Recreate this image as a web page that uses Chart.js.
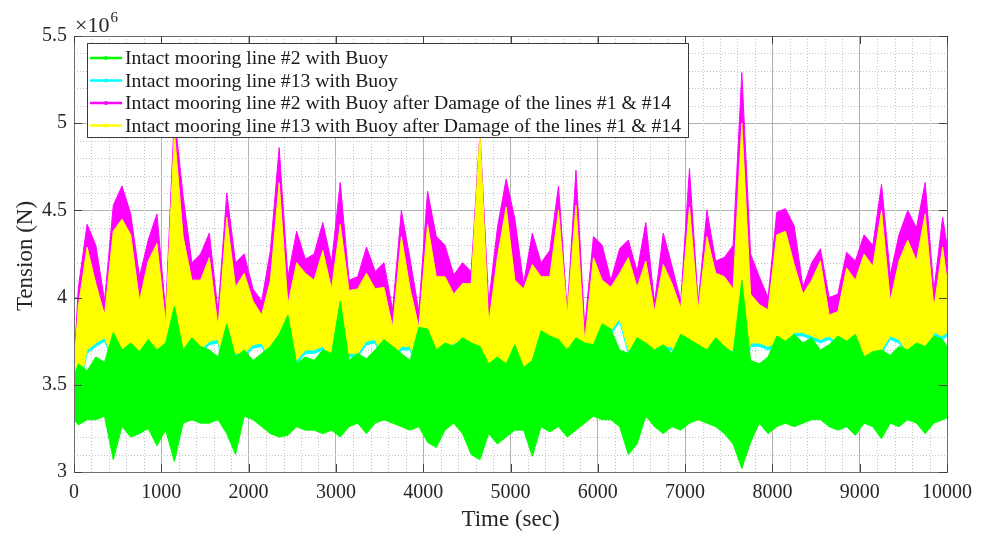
<!DOCTYPE html>
<html>
<head>
<meta charset="utf-8">
<title>Mooring line tension</title>
<script src="https://cdn.jsdelivr.net/npm/chart.js@4.4.1/dist/chart.umd.min.js"></script>
<style>
  html, body { margin: 0; padding: 0; background: #fff; }
  #wrap { width: 990px; height: 536px; }
</style>
</head>
<body>
<div id="wrap"><canvas id="tension" width="990" height="536"></canvas></div>
<script>
// tension in units of 1e6 N; first/last entries sit at t = 0 and t = 10000,
// the rest are the peak / trough of each 100 s window (window centre)
const legendLabels = [
    'Intact mooring line #2 with Buoy',
    'Intact mooring line #13 with Buoy',
    'Intact mooring line #2 with Buoy after Damage of the lines #1 & #14',
    'Intact mooring line #13 with Buoy after Damage of the lines #1 & #14'
];
const xTicks = [0, 1000, 2000, 3000, 4000, 5000, 6000, 7000, 8000, 9000, 10000];
const yTicks = [3, 3.5, 4, 4.5, 5, 5.5];

const line2Top = [3.55,
    3.62, 3.58, 3.66, 3.63, 3.8, 3.7, 3.74, 3.69, 3.76, 3.7,
    3.74, 3.95, 3.7, 3.77, 3.72, 3.7, 3.66, 3.85, 3.66, 3.7,
    3.64, 3.68, 3.72, 3.79, 3.9, 3.62, 3.66, 3.64, 3.7, 3.68,
    3.98, 3.64, 3.68, 3.65, 3.7, 3.76, 3.72, 3.68, 3.64, 3.83,
    3.82, 3.7, 3.74, 3.72, 3.77, 3.74, 3.72, 3.62, 3.66, 3.62,
    3.73, 3.6, 3.64, 3.81, 3.78, 3.76, 3.7, 3.77, 3.74, 3.73,
    3.85, 3.82, 3.7, 3.68, 3.77, 3.74, 3.7, 3.73, 3.68, 3.79,
    3.76, 3.73, 3.7, 3.77, 3.72, 3.68, 4.1, 3.64, 3.62, 3.66,
    3.78, 3.75, 3.79, 3.74, 3.77, 3.7, 3.73, 3.78, 3.75, 3.79,
    3.66, 3.69, 3.7, 3.67, 3.72, 3.7, 3.74, 3.72, 3.78, 3.76,
    3.72];
const line2Bottom = [3.3,
    3.27, 3.3, 3.3, 3.32, 3.07, 3.26, 3.2, 3.22, 3.25, 3.15,
    3.24, 3.06, 3.28, 3.3, 3.28, 3.28, 3.3, 3.22, 3.1, 3.32,
    3.3, 3.26, 3.22, 3.2, 3.21, 3.26, 3.24, 3.24, 3.22, 3.24,
    3.2, 3.26, 3.28, 3.22, 3.28, 3.3, 3.28, 3.26, 3.24, 3.26,
    3.17, 3.14, 3.24, 3.28, 3.22, 3.1, 3.07, 3.22, 3.16, 3.2,
    3.24, 3.24, 3.09, 3.26, 3.23, 3.26, 3.2, 3.24, 3.28, 3.32,
    3.3, 3.3, 3.26, 3.1, 3.16, 3.32, 3.26, 3.22, 3.26, 3.24,
    3.28, 3.3, 3.28, 3.26, 3.22, 3.16, 3.02, 3.17, 3.28, 3.22,
    3.26, 3.28, 3.26, 3.28, 3.3, 3.3, 3.26, 3.24, 3.26, 3.21,
    3.28, 3.26, 3.19, 3.28, 3.26, 3.3, 3.28, 3.22, 3.28, 3.3,
    3.31];

const line13Top = [3.56,
    3.9, 4.22, 4.02, 3.85, 4.3, 4.38, 4.28, 3.92, 4.14, 4.25,
    3.8, 4.88, 4.28, 4.04, 4.05, 4.16, 3.78, 4.38, 4.0, 4.08,
    3.92, 3.85, 4.04, 4.58, 3.9, 4.14, 4.08, 4.04, 4.2, 3.99,
    4.35, 3.98, 3.99, 4.08, 3.99, 4.0, 3.78, 4.28, 3.99, 3.78,
    4.35, 4.06, 4.06, 3.96, 4.02, 4.02, 4.86, 3.8, 4.16, 4.45,
    4.04, 3.99, 4.12, 4.06, 4.06, 4.43, 3.84, 4.46, 3.7, 4.16,
    4.04, 4.0, 4.08, 4.16, 4.0, 4.14, 3.86, 4.12, 4.02, 3.88,
    4.45, 3.88, 4.28, 4.08, 4.06, 3.99, 4.92, 3.96, 3.9, 3.88,
    4.3, 4.3, 4.12, 3.96, 4.04, 4.14, 3.85, 3.86, 4.1, 4.04,
    4.18, 4.12, 4.43, 3.92, 4.14, 4.26, 4.14, 4.4, 3.88, 4.22,
    4.04];
const line13Bottom = [3.4,
    3.43, 3.68, 3.72, 3.75, 3.63, 3.66, 3.68, 3.58, 3.6, 3.64,
    3.66, 3.45, 3.6, 3.66, 3.68, 3.73, 3.74, 3.48, 3.66, 3.66,
    3.71, 3.72, 3.62, 3.46, 3.64, 3.62, 3.68, 3.68, 3.7, 3.64,
    3.43, 3.66, 3.66, 3.73, 3.74, 3.62, 3.64, 3.7, 3.7, 3.55,
    3.58, 3.68, 3.66, 3.72, 3.72, 3.48, 3.46, 3.58, 3.56, 3.6,
    3.58, 3.48, 3.62, 3.64, 3.7, 3.48, 3.71, 3.58, 3.6, 3.68,
    3.68, 3.79, 3.86, 3.68, 3.68, 3.6, 3.58, 3.7, 3.7, 3.56,
    3.58, 3.6, 3.66, 3.7, 3.68, 3.68, 3.44, 3.72, 3.72, 3.7,
    3.72, 3.72, 3.78, 3.78, 3.76, 3.74, 3.76, 3.72, 3.72, 3.7,
    3.58, 3.51, 3.68, 3.76, 3.74, 3.66, 3.64, 3.56, 3.78, 3.76,
    3.78];

const damaged2Top = [3.62,
    4.06, 4.42, 4.3, 3.98, 4.53, 4.64, 4.48, 4.12, 4.33, 4.48,
    3.92, 5.05, 4.58, 4.2, 4.25, 4.37, 3.92, 4.6, 4.2, 4.25,
    4.05, 3.98, 4.27, 4.86, 4.12, 4.38, 4.22, 4.25, 4.43, 4.2,
    4.66, 4.1, 4.12, 4.29, 4.15, 4.2, 3.93, 4.5, 4.22, 3.92,
    4.61, 4.35, 4.3, 4.13, 4.2, 4.15, 4.95, 3.97, 4.4, 4.68,
    4.45, 4.08, 4.37, 4.2, 4.27, 4.64, 3.92, 4.73, 3.83, 4.35,
    4.3, 4.1, 4.28, 4.33, 4.15, 4.43, 3.97, 4.37, 4.18, 3.98,
    4.74, 3.97, 4.5, 4.21, 4.23, 4.3, 5.29, 4.25, 4.12, 4.0,
    4.49, 4.51, 4.41, 4.06, 4.2, 4.28, 4.0, 4.02, 4.26, 4.21,
    4.36, 4.3, 4.65, 4.13, 4.36, 4.5, 4.4, 4.66, 4.04, 4.46,
    4.3];
const damaged2Bottom = [3.55,
    3.6, 3.8, 3.82, 3.85, 3.75, 3.78, 3.8, 3.72, 3.74, 3.78,
    3.78, 3.52, 3.74, 3.78, 3.8, 3.84, 3.86, 3.58, 3.78, 3.78,
    3.82, 3.84, 3.74, 3.55, 3.76, 3.74, 3.8, 3.8, 3.82, 3.76,
    3.52, 3.78, 3.78, 3.84, 3.85, 3.74, 3.76, 3.8, 3.8, 3.66,
    3.7, 3.8, 3.78, 3.84, 3.84, 3.58, 3.55, 3.7, 3.68, 3.72,
    3.7, 3.6, 3.74, 3.76, 3.82, 3.58, 3.82, 3.7, 3.7, 3.8,
    3.8, 3.88, 3.94, 3.8, 3.8, 3.72, 3.7, 3.82, 3.82, 3.68,
    3.7, 3.72, 3.78, 3.82, 3.8, 3.8, 3.52, 3.84, 3.84, 3.82,
    3.84, 3.84, 3.9, 3.9, 3.88, 3.86, 3.86, 3.84, 3.84, 3.82,
    3.7, 3.62, 3.8, 3.88, 3.86, 3.78, 3.76, 3.68, 3.9, 3.88,
    3.88];

const damaged13Top = [3.6,
    3.95, 4.29, 4.08, 3.9, 4.38, 4.45, 4.36, 3.98, 4.21, 4.31,
    3.85, 4.95, 4.35, 4.1, 4.1, 4.23, 3.83, 4.46, 4.06, 4.14,
    3.98, 3.9, 4.1, 4.66, 3.96, 4.2, 4.14, 4.1, 4.27, 4.05,
    4.42, 4.04, 4.05, 4.14, 4.05, 4.06, 3.83, 4.35, 4.05, 3.83,
    4.42, 4.12, 4.12, 4.02, 4.08, 4.08, 4.94, 3.85, 4.23, 4.52,
    4.1, 4.05, 4.19, 4.12, 4.12, 4.5, 3.9, 4.53, 3.74, 4.23,
    4.1, 4.06, 4.14, 4.23, 4.06, 4.21, 3.92, 4.19, 4.08, 3.94,
    4.52, 3.93, 4.35, 4.14, 4.12, 4.05, 5.0, 4.02, 3.96, 3.93,
    4.36, 4.38, 4.19, 4.02, 4.1, 4.21, 3.9, 3.92, 4.17, 4.1,
    4.25, 4.18, 4.5, 3.98, 4.21, 4.33, 4.21, 4.48, 3.94, 4.29,
    4.1];
const damaged13Bottom = [3.42,
    3.45, 3.7, 3.74, 3.77, 3.65, 3.68, 3.7, 3.6, 3.62, 3.66,
    3.68, 3.47, 3.62, 3.68, 3.7, 3.75, 3.76, 3.5, 3.68, 3.68,
    3.73, 3.74, 3.64, 3.48, 3.66, 3.64, 3.7, 3.7, 3.72, 3.66,
    3.45, 3.68, 3.68, 3.75, 3.76, 3.64, 3.66, 3.72, 3.72, 3.57,
    3.6, 3.7, 3.68, 3.74, 3.74, 3.5, 3.48, 3.6, 3.58, 3.62,
    3.6, 3.5, 3.64, 3.66, 3.72, 3.5, 3.73, 3.6, 3.62, 3.7,
    3.7, 3.81, 3.88, 3.7, 3.7, 3.62, 3.6, 3.72, 3.72, 3.58,
    3.6, 3.62, 3.68, 3.72, 3.7, 3.7, 3.46, 3.74, 3.74, 3.72,
    3.74, 3.74, 3.8, 3.8, 3.78, 3.76, 3.78, 3.74, 3.74, 3.72,
    3.6, 3.53, 3.7, 3.78, 3.76, 3.68, 3.66, 3.58, 3.8, 3.78,
    3.8];

const colors = ['#00ff00', '#00ffff', '#ff00ff', '#ffff00'];
const serif = '"Liberation Serif", "Times New Roman", serif';

// sample times: record ends plus the centre of every 100 s window
const seconds = [0];
for (let i = 0; i < 100; i++) seconds.push(i * 100 + 50);
seconds.push(10000);

function toPoints(values) {
    return values.map((v, i) => ({ x: seconds[i], y: v }));
}

// each record is drawn as a filled band: lower envelope + upper envelope filled to it
function band(label, lower, upper, color) {
    let common = { borderColor: color, borderWidth: 1, pointRadius: 0, tension: 0 };
    return [
        Object.assign({ label: label + ' (min)', data: toPoints(lower), fill: false }, common),
        Object.assign({ label: label, data: toPoints(upper), fill: '-1', backgroundColor: color }, common)
    ];
}

// first dataset ends up on top: green, then yellow, cyan, magenta underneath
const datasets = [].concat(
    band(legendLabels[0], line2Bottom, line2Top, colors[0]),
    band(legendLabels[3], damaged13Bottom, damaged13Top, colors[3]),
    band(legendLabels[1], line13Bottom, line13Top, colors[1]),
    band(legendLabels[2], damaged2Bottom, damaged2Top, colors[2])
);

// dotted minor grid under the data
const minorGrid = {
    id: 'minorGrid',
    beforeDatasetsDraw(chart) {
        const { ctx, chartArea: a, scales: { x, y } } = chart;
        ctx.save();
        ctx.strokeStyle = '#c4c4c4';
        ctx.lineWidth = 1;
        ctx.setLineDash([1, 2]);
        for (let t = 200; t < 10000; t += 200) {
            if (t % 1000 === 0) continue;
            let px = Math.round(x.getPixelForValue(t)) + 0.5;
            ctx.beginPath(); ctx.moveTo(px, a.top); ctx.lineTo(px, a.bottom); ctx.stroke();
        }
        for (let k = 31; k < 55; k++) {
            if (k % 5 === 0) continue;
            let py = Math.round(y.getPixelForValue(k / 10)) + 0.5;
            ctx.beginPath(); ctx.moveTo(a.left, py); ctx.lineTo(a.right, py); ctx.stroke();
        }
        ctx.restore();
    }
};

// box, inward ticks, exponent, axis titles and legend
const frame = {
    id: 'frame',
    afterDatasetsDraw(chart) {
        const { ctx, chartArea: a, scales: { x, y } } = chart;
        ctx.save();
        ctx.strokeStyle = '#6e6e6e';
        ctx.lineWidth = 1;
        ctx.strokeRect(Math.round(a.left) + 0.5, Math.round(a.top) + 0.5,
            Math.round(a.right - a.left), Math.round(a.bottom - a.top));

        ctx.strokeStyle = '#404040';
        ctx.beginPath();
        xTicks.forEach(t => {
            let px = Math.round(x.getPixelForValue(t)) + 0.5;
            ctx.moveTo(px, a.bottom); ctx.lineTo(px, a.bottom - 8);
            ctx.moveTo(px, a.top); ctx.lineTo(px, a.top + 8);
        });
        yTicks.forEach(v => {
            let py = Math.round(y.getPixelForValue(v)) + 0.5;
            ctx.moveTo(a.left, py); ctx.lineTo(a.left + 8, py);
            ctx.moveTo(a.right, py); ctx.lineTo(a.right - 8, py);
        });
        ctx.stroke();

        ctx.fillStyle = '#262626';
        ctx.textBaseline = 'alphabetic';
        ctx.textAlign = 'left';
        ctx.font = '22px ' + serif;
        ctx.fillText('\u00d710', a.left + 1, a.top - 4);
        let w = ctx.measureText('\u00d710').width;
        ctx.font = '15px ' + serif;
        ctx.fillText('6', a.left + 2 + w, a.top - 14);

        ctx.font = '23px ' + serif;
        ctx.textAlign = 'center';
        ctx.textBaseline = 'middle';
        ctx.fillText('Time (sec)', (a.left + a.right) / 2, 520);
        ctx.save();
        ctx.translate(26, 256);
        ctx.rotate(-Math.PI / 2);
        ctx.fillText('Tension (N)', 0, 0);
        ctx.restore();

        // legend box
        const lx = 87, ly = 43, lw = 601, lh = 94;
        ctx.fillStyle = '#ffffff';
        ctx.fillRect(lx, ly, lw, lh);
        ctx.strokeStyle = '#3a3a3a';
        ctx.strokeRect(lx + 0.5, ly + 0.5, lw, lh);
        ctx.font = '19.7px ' + serif;
        ctx.textAlign = 'left';
        const rows = [58, 80.5, 103, 125.5];
        legendLabels.forEach((label, i) => {
            ctx.strokeStyle = colors[i];
            ctx.lineWidth = 2.5;
            ctx.beginPath(); ctx.moveTo(90, rows[i]); ctx.lineTo(122, rows[i]); ctx.stroke();
            ctx.fillStyle = colors[i];
            ctx.beginPath(); ctx.arc(106, rows[i], 2, 0, Math.PI * 2); ctx.fill();
            ctx.fillStyle = '#1a1a1a';
            ctx.fillText(label, 125, rows[i] + 1);
        });
        ctx.restore();
    }
};

new Chart(document.getElementById('tension').getContext('2d'), {
    type: 'line',
    data: { datasets: datasets },
    options: {
        responsive: false,
        animation: false,
        devicePixelRatio: 1,
        events: [],
        layout: { padding: { top: 36, right: 43, left: 0, bottom: 0 } },
        plugins: { legend: { display: false }, tooltip: { enabled: false } },
        scales: {
            x: {
                type: 'linear',
                min: 0,
                max: 10000,
                afterFit: s => { s.height = 64; },
                afterBuildTicks: s => { s.ticks = xTicks.map(v => ({ value: v })); },
                ticks: {
                    padding: 9,
                    color: '#262626',
                    font: { family: serif, size: 20 },
                    maxRotation: 0,
                    callback: v => String(v)
                },
                grid: { color: '#b2b2b2', drawTicks: false },
                border: { display: false }
            },
            y: {
                min: 3,
                max: 5.5,
                afterFit: s => { s.width = 74; },
                afterBuildTicks: s => { s.ticks = yTicks.map(v => ({ value: v })); },
                ticks: {
                    padding: 7,
                    color: '#262626',
                    font: { family: serif, size: 20 },
                    callback: v => String(v)
                },
                grid: { color: '#b2b2b2', drawTicks: false },
                border: { display: false }
            }
        }
    },
    plugins: [minorGrid, frame]
});
</script>
</body>
</html>
